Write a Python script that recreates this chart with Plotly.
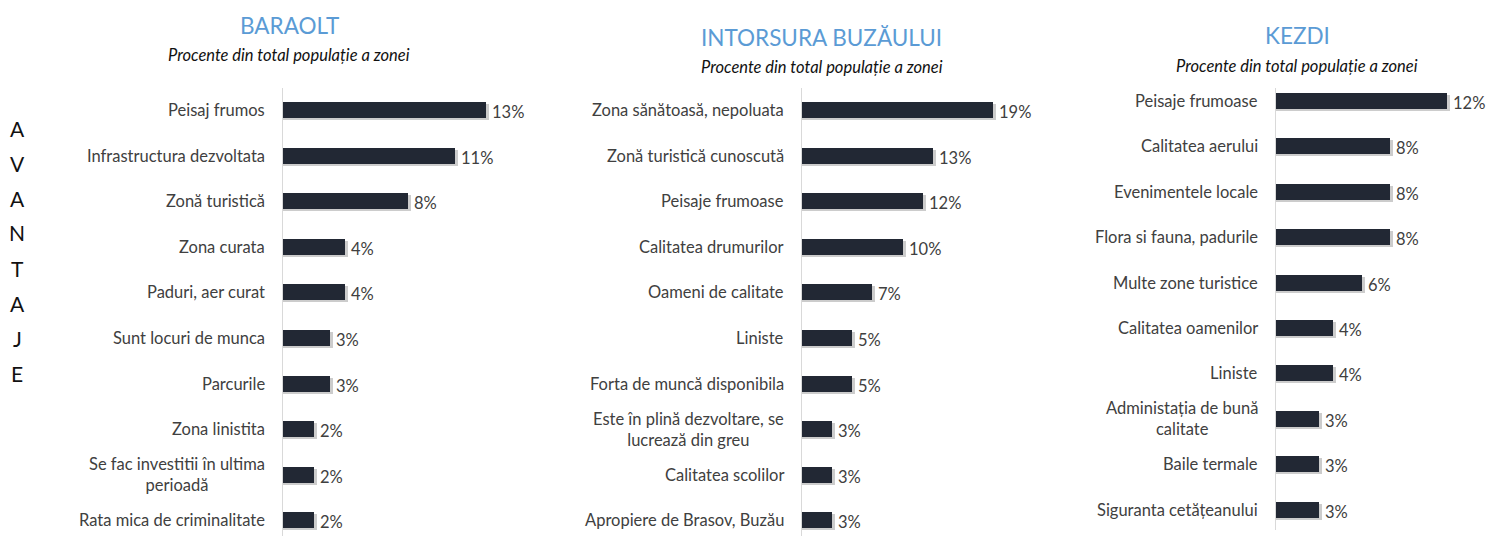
import plotly.graph_objects as go

W, H = 1489, 536

baraolt_labels = ["Peisaj frumos", "Infrastructura dezvoltata", "Zonă turistică", "Zona curata",
                  "Paduri, aer curat", "Sunt locuri de munca", "Parcurile", "Zona linistita",
                  "Se fac investitii în ultima<br>perioadă", "Rata mica de criminalitate"]
baraolt_values = [13, 11, 8, 4, 4, 3, 3, 2, 2, 2]

intorsura_labels = ["Zona sănătoasă, nepoluata", "Zonă turistică cunoscută", "Peisaje frumoase",
                    "Calitatea drumurilor", "Oameni de calitate", "Liniste", "Forta de muncă disponibila",
                    "Este în plină dezvoltare, se<br>lucrează din greu", "Calitatea scolilor",
                    "Apropiere de Brasov, Buzău"]
intorsura_values = [19, 13, 12, 10, 7, 5, 5, 3, 3, 3]

kezdi_labels = ["Peisaje frumoase", "Calitatea aerului", "Evenimentele locale", "Flora si fauna, padurile",
                "Multe zone turistice", "Calitatea oamenilor", "Liniste",
                "Administația de bună<br>calitate", "Baile termale", "Siguranta cetățeanului"]
kezdi_values = [12, 8, 8, 8, 6, 4, 4, 3, 3, 3]

titles = ["BARAOLT", "INTORSURA BUZĂULUI", "KEZDI"]
subtitle = "Procente din total populație a zonei"
side_label = "AVANTAJE"

FONT = "Lato"
BAR = "#222834"
TXT = "#404040"
LBL = 16.5

# layout specs per panel (pixels)
panels = [
    dict(labels=baraolt_labels, values=baraolt_values, x0=283, x1=560, ppp=15.6,
         ytop=88, ybot=536, c0=110, sp=45.6, tx=289, ty=25, sy=55),
    dict(labels=intorsura_labels, values=intorsura_values, x0=802, x1=1080, ppp=10.05,
         ytop=88, ybot=536, c0=110, sp=45.6, tx=822, ty=37, sy=67),
    dict(labels=kezdi_labels, values=kezdi_values, x0=1276, x1=1489, ppp=14.25,
         ytop=88, ybot=530, c0=101, sp=45.4, tx=1297, ty=36, sy=66),
]

fig = go.Figure()
annotations = []
layout_axes = {}
BW = 16.0  # bar thickness px

for i, p in enumerate(panels):
    k = "" if i == 0 else str(i + 1)
    xa, ya = "x" + k, "y" + k
    n = len(p["values"])
    ypos = list(range(n))
    sp = p["sp"]
    w = BW / sp
    sh_dx = 3.0 / p["ppp"]
    sh_dy = 2.0 / sp
    fig.add_trace(go.Bar(
        x=[v + sh_dx for v in p["values"]], y=ypos, orientation="h",
        width=w, offset=-w / 2 + sh_dy,
        marker=dict(color="rgba(110,110,110,0.35)", line=dict(width=0)),
        text=[f"{v}%" for v in p["values"]], textposition="outside", constraintext="none",
        textfont=dict(family=FONT, size=LBL, color=TXT), cliponaxis=False,
        xaxis=xa, yaxis=ya, hoverinfo="skip", showlegend=False))
    fig.add_trace(go.Bar(
        x=p["values"], y=ypos, orientation="h", width=w, offset=-w / 2,
        marker=dict(color=BAR, line=dict(width=0)),
        xaxis=xa, yaxis=ya, showlegend=False))

    t = -(p["c0"] - p["ytop"]) / sp
    b = t + (p["ybot"] - p["ytop"]) / sp
    xr = (p["x1"] - p["x0"]) / p["ppp"]
    layout_axes["xaxis" + k] = dict(domain=[p["x0"] / W, p["x1"] / W], range=[0, xr],
                                   visible=False, anchor=ya, fixedrange=True)
    layout_axes["yaxis" + k] = dict(domain=[1 - p["ybot"] / H, 1 - p["ytop"] / H], range=[b, t],
                                   showline=True, linecolor="#d9d9d9", linewidth=1,
                                   showticklabels=False, showgrid=False, zeroline=False,
                                   ticks="", anchor=xa, fixedrange=True)

    for j, lab in enumerate(p["labels"]):
        annotations.append(dict(text=lab, x=0, xref=xa + " domain", y=j, yref=ya,
                                xanchor="right", yanchor="middle", xshift=-16, align="center",
                                showarrow=False, font=dict(family=FONT, size=LBL, color=TXT)))
    annotations.append(dict(text=titles[i], x=p["tx"] / W, y=1 - p["ty"] / H, xref="paper", yref="paper",
                            xanchor="center", yanchor="middle", showarrow=False,
                            font=dict(family=FONT, size=22.5, color="#5B9BD5")))
    annotations.append(dict(text="<i>" + subtitle + "</i>", x=p["tx"] / W, y=1 - p["sy"] / H,
                            xref="paper", yref="paper", xanchor="center", yanchor="middle",
                            showarrow=False, font=dict(family=FONT, size=16.5, color="#111111")))

for j, ch in enumerate(side_label):
    annotations.append(dict(text=ch, x=17 / W, y=1 - (128 + j * 35.0) / H, xref="paper", yref="paper",
                            xanchor="center", yanchor="middle", showarrow=False,
                            font=dict(family=FONT, size=21, color="#111111")))

fig.update_layout(width=W, height=H, margin=dict(l=0, r=0, t=0, b=0),
                  paper_bgcolor="white", plot_bgcolor="white", barmode="overlay",
                  bargap=0, annotations=annotations, **layout_axes)

fig.write_html("out.html", config={"displayModeBar": False},
               post_script="document.body.style.margin='0';document.body.style.overflow='hidden';")
